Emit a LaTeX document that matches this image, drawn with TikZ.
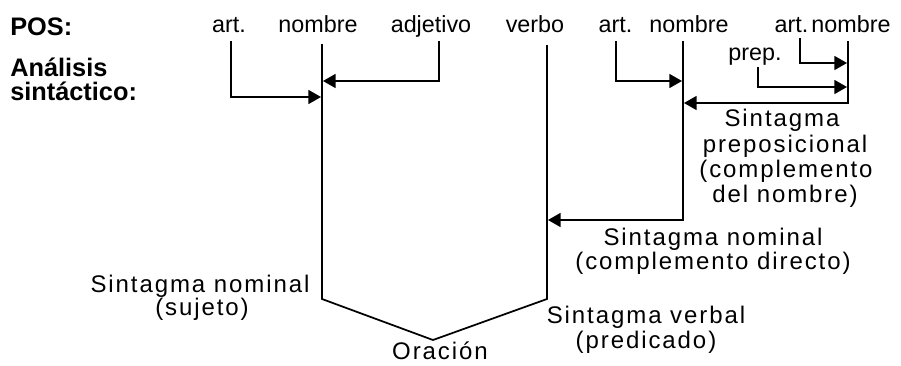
\documentclass[tikz,border=0pt]{standalone}
\usepackage{fontspec}
\setmainfont{Liberation Sans}
\newfontfamily\spacedfont[LetterSpace=8]{Liberation Sans}
\usetikzlibrary{arrows.meta}
\begin{document}
\begin{tikzpicture}[x=0.75pt,y=-0.75pt,
  posword/.style={font=\fontsize{17.5}{20}\selectfont, anchor=base, inner sep=0pt},
  hdr/.style={font=\fontsize{19}{22}\bfseries\selectfont, anchor=base west, inner sep=0pt},
  lbl/.style={font=\spacedfont\fontsize{18}{21}\selectfont, anchor=base, inner sep=0pt},
  link/.style={line width=1.3pt},
  arr/.style={link, -{Triangle[length=9.5pt,width=10.5pt]}}]
\useasboundingbox (0,0) rectangle (901,365);

% row headers
\node[hdr] (hpos) at (10,35) {POS:};
\node[hdr] (hana) at (10,76) {Análisis};
\node[hdr] (hsin) at (10,100) {sintáctico:};

% parts of speech
\node[posword] (art1) at (229,32) {art.};
\node[posword] (nom1) at (318,32) {nombre};
\node[posword] (adj)  at (431,32) {adjetivo};
\node[posword] (verb) at (535,32) {verbo};
\node[posword] (art2) at (615.5,32) {art.};
\node[posword] (nom2) at (689,32) {nombre};
\node[posword] (art3) at (791.5,32) {art.};
\node[posword] (nom3) at (851,32) {nombre};
\node[posword] (prep) at (755,60) {prep.};

% line anchor points
\coordinate (art1t) at (231,41);
\coordinate (nom1t) at (322,44);
\coordinate (adjt)  at (439,41);
\coordinate (verbt) at (547,45);
\coordinate (art2t) at (616,41);
\coordinate (nom2t) at (683,41);
\coordinate (art3t) at (800,38);
\coordinate (nom3t) at (848,41);
\coordinate (prept) at (758,67);

\coordinate (j1) at (321,97);
\coordinate (j2) at (323,81);
\coordinate (j3) at (682,81);
\coordinate (j4) at (548,220);
\coordinate (j5) at (847,87);
\coordinate (j6) at (847,63);
\coordinate (j7) at (684,103);

\coordinate (snb) at (322,299);
\coordinate (orac) at (433,340);
\coordinate (svb) at (547,299);

% main tree
\draw[link] (nom1t) -- (snb) -- (orac) -- (svb) -- (verbt);

% arrows
\draw[arr] (art1t) |- (j1);
\draw[arr] (adjt) |- (j2);
\draw[arr] (art2t) |- (j3);
\draw[arr] (nom2t) |- (j4);
\draw[arr] (prept) |- (j5);
\draw[arr] (art3t) |- (j6);
\draw[arr] (nom3t) |- (j7);

% phrase labels
\node[lbl] (sp1) at (782,126) {Sintagma};
\node[lbl] (sp2) at (785,152) {preposicional};
\node[lbl] (sp3) at (786,177) {(complemento};
\node[lbl] (sp4) at (785,202) {del nombre)};

\node[lbl] (cd1) at (713,245) {Sintagma nominal};
\node[lbl] (cd2) at (713,269) {(complemento directo)};

\node[lbl] (sv1) at (646,323) {Sintagma verbal};
\node[lbl] (sv2) at (646,348) {(predicado)};

\node[lbl] (sn1) at (200,292) {Sintagma nominal};
\node[lbl] (sn2) at (202,315) {(sujeto)};

\node[lbl] (or) at (440,359) {Oración};
\end{tikzpicture}
\end{document}
